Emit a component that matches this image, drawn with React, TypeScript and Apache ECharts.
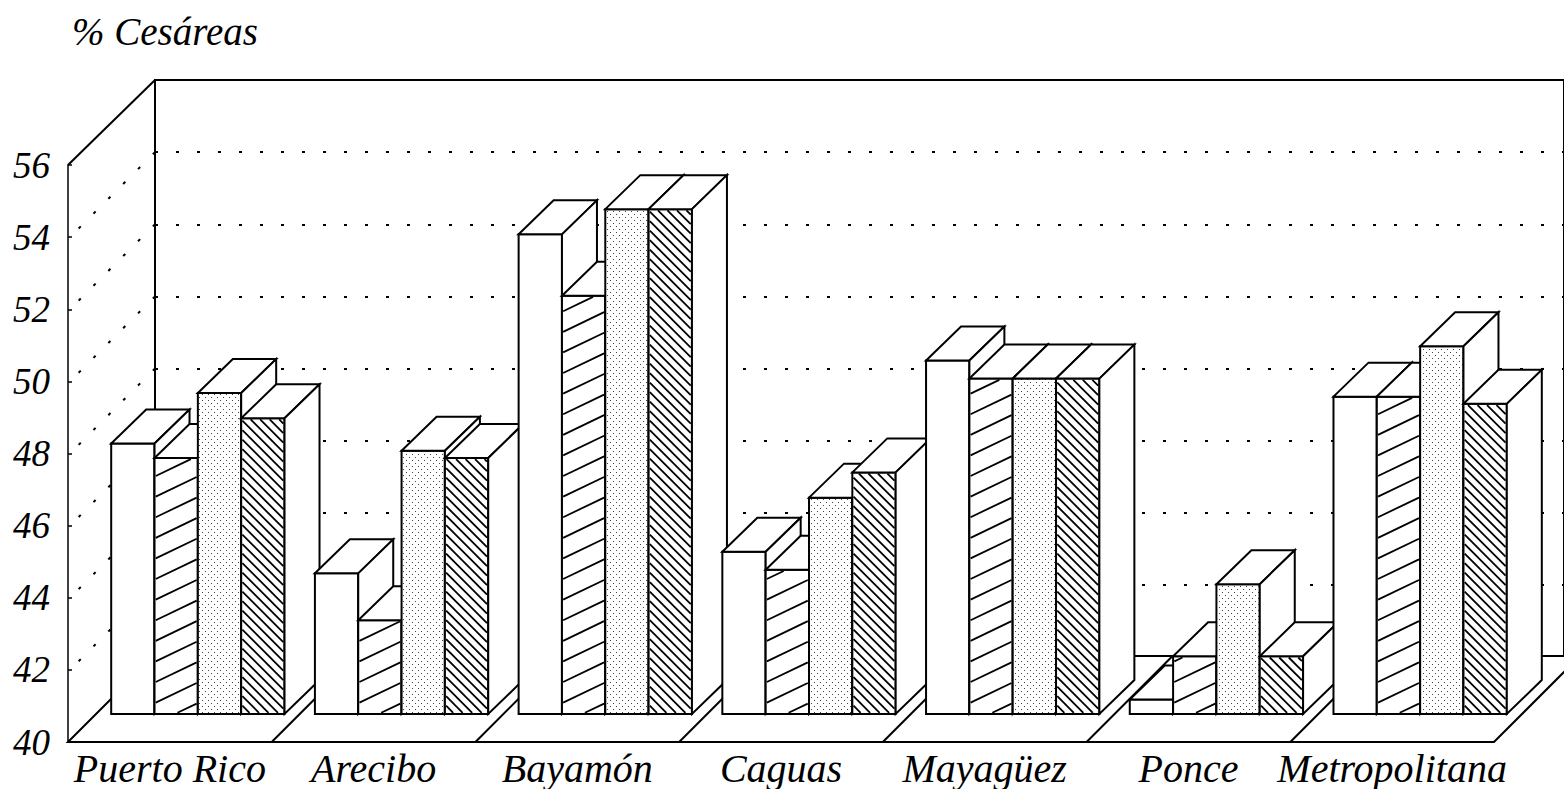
import React, { useEffect, useRef } from 'react';
import * as echarts from 'echarts';

// ---------- data ----------
const categories = ['Puerto Rico', 'Arecibo', 'Bayamón', 'Caguas', 'Mayagüez', 'Ponce', 'Metropolitana'];
const serie1 = [47.5, 43.9, 53.3, 44.5, 49.8, 40.4, 48.8]; // blanco
const serie2 = [47.1, 42.6, 51.6, 44.0, 49.3, 41.6, 48.8]; // rayado /
const serie3 = [48.9, 47.3, 54.0, 46.0, 49.3, 43.6, 50.2]; // punteado
const serie4 = [48.2, 47.1, 54.0, 46.7, 49.3, 41.6, 48.6]; // rayado \
const seriesNames = ['Serie 1', 'Serie 2', 'Serie 3', 'Serie 4'];
const seriesKinds = ['plain', 'slash', 'dots', 'backslash'];
const yMin = 40;
const yMax = 56;
const yStep = 2;
const backMin = 42;
const backMax = 58;
const backTicks = [44, 46, 48, 50, 52, 54, 56];

// ---------- layout ----------
const FONT = '"Liberation Serif", "Times New Roman", serif';
const FRONT_LEFT = 68;
const FRONT_TOP = 165;
const FRONT_W = 1426;
const FRONT_H = 577;
const BACK_LEFT = 155;
const BACK_TOP = 80;
const BACK_H = 577;
const DEPTH = 86;
const PLANE = 28;
const BAR_DX = 35;
const BAR_DY = 34;
const BAR_FRAC = 0.2127;

function hatchSegments(x0: number, y0: number, x1: number, y1: number, k: number, sp: number, c0: number) {
  const segs: number[][] = [];
  const cs = [y0 - k * x0, y0 - k * x1, y1 - k * x0, y1 - k * x1];
  const cmin = Math.min(...cs);
  const cmax = Math.max(...cs);
  let c = c0 + Math.ceil((cmin - c0) / sp) * sp;
  for (; c <= cmax; c += sp) {
    let xa = (y0 - c) / k;
    let xb = (y1 - c) / k;
    if (xa > xb) { const t = xa; xa = xb; xb = t; }
    xa = Math.max(xa, x0);
    xb = Math.min(xb, x1);
    if (xb - xa > 0.5) segs.push([xa, c + k * xa, xb, c + k * xb]);
  }
  return segs;
}

function makeDotPattern() {
  const c = document.createElement('canvas');
  c.width = 6;
  c.height = 6;
  const g = c.getContext('2d')!;
  g.fillStyle = '#ffffff';
  g.fillRect(0, 0, 6, 6);
  g.fillStyle = '#444444';
  g.fillRect(1, 1, 1, 1);
  g.fillRect(4, 4, 1, 1);
  return { image: c.toDataURL(), repeat: 'repeat', imageWidth: 6, imageHeight: 6 };
}

export default function App() {
  const ref = useRef<HTMLDivElement>(null);

  useEffect(() => {
    if (!ref.current) return;
    const chart = echarts.init(ref.current, null, { renderer: 'svg' });
    const dotPattern = makeDotPattern();
    const allSeries = [serie1, serie2, serie3, serie4];

    const barRender = (j: number) => (params: any, api: any) => {
      const i = api.value(0);
      const v = api.value(1);
      const top = api.coord([i, v]);
      const base = api.coord([i, yMin]);
      const band = api.size([1, 0])[0];
      const bw = band * BAR_FRAC;
      const cx = top[0] + PLANE;
      const x0 = cx - 2 * bw + j * bw;
      const x1 = x0 + bw;
      const yT = top[1] - PLANE;
      const yB = base[1] - PLANE;
      const z = (i * 4 + j) * 10;
      const kind = seriesKinds[j];
      const children: any[] = [];
      children.push({
        type: 'rect',
        shape: { x: x0, y: yT, width: bw, height: yB - yT },
        style: { fill: kind === 'dots' ? dotPattern : '#ffffff', stroke: 'none' },
        z2: z,
      });
      let segs: number[][] = [];
      const ix0 = x0 + 1.2, ix1 = x1 - 1.2, iy0 = yT + 1.2, iy1 = yB - 1.2;
      if (kind === 'slash') {
        const k = -0.48;
        segs = hatchSegments(ix0, iy0, ix1, iy1, k, 20.6, yB - 11 - k * x1);
      } else if (kind === 'backslash') {
        segs = hatchSegments(ix0, iy0, ix1, iy1, 1, 9.5, yB - x0);
      }
      segs.forEach((s) => {
        children.push({
          type: 'line',
          shape: { x1: s[0], y1: s[1], x2: s[2], y2: s[3] },
          style: { stroke: '#000', lineWidth: 1.8 },
          z2: z + 1,
        });
      });
      children.push({
        type: 'rect',
        shape: { x: x0, y: yT, width: bw, height: yB - yT },
        style: { fill: 'none', stroke: '#000', lineWidth: 2 },
        z2: z + 2,
      });
      children.push({
        type: 'polygon',
        shape: { points: [[x0, yT], [x1, yT], [x1 + BAR_DX, yT - BAR_DY], [x0 + BAR_DX, yT - BAR_DY]] },
        style: { fill: '#ffffff', stroke: '#000', lineWidth: 2, lineJoin: 'miter' },
        z2: z + 3,
      });
      children.push({
        type: 'polygon',
        shape: { points: [[x1, yT], [x1 + BAR_DX, yT - BAR_DY], [x1 + BAR_DX, yB - BAR_DY], [x1, yB]] },
        style: { fill: '#ffffff', stroke: '#000', lineWidth: 2, lineJoin: 'miter' },
        z2: z + 3,
      });
      return { type: 'group', children };
    };

    const floorRender = (params: any, api: any) => {
      const i = api.value(0);
      const p = api.coord([i, yMin]);
      const band = api.size([1, 0])[0];
      const left = p[0] - band / 2;
      const y = p[1];
      const children: any[] = [];
      if (i === 0) {
        const right = left + band * categories.length;
        children.push({
          type: 'polygon',
          shape: { points: [[left, y], [left + DEPTH, y - DEPTH], [right + DEPTH, y - DEPTH], [right, y]] },
          style: { fill: '#ffffff', stroke: '#000', lineWidth: 2 },
          z2: 0,
        });
      } else {
        children.push({
          type: 'line',
          shape: { x1: left, y1: y, x2: left + DEPTH, y2: y - DEPTH },
          style: { stroke: '#000', lineWidth: 2 },
          z2: 1,
        });
      }
      return { type: 'group', children };
    };

    const diagRender = (params: any, api: any) => {
      const p = api.coord([0, api.value(1)]);
      const dx = p[0] - (FRONT_LEFT + 8);
      return {
        type: 'line',
        shape: { x1: p[0], y1: p[1], x2: p[0] - dx, y2: p[1] + dx },
        style: { stroke: '#000', lineWidth: 2, lineDash: [3, 18] },
      };
    };

    const edgeRender = (params: any, api: any) => {
      const p = api.coord([0, api.value(1)]);
      return {
        type: 'line',
        shape: { x1: p[0], y1: p[1], x2: FRONT_LEFT, y2: FRONT_TOP },
        style: { stroke: '#000', lineWidth: 2 },
      };
    };

    const option: any = {
      animation: false,
      backgroundColor: '#ffffff',
      title: {
        text: '% Cesáreas',
        left: 67,
        top: 7,
        textStyle: { fontFamily: FONT, fontStyle: 'italic', fontWeight: 'normal', fontSize: 39, color: '#000' },
      },
      grid: [
        { left: FRONT_LEFT, top: FRONT_TOP, width: FRONT_W, height: FRONT_H, containLabel: false },
        {
          left: BACK_LEFT, top: BACK_TOP, width: 1500, height: BACK_H, containLabel: false,
          show: true, borderColor: '#000', borderWidth: 2, backgroundColor: 'transparent',
        },
      ],
      xAxis: [
        {
          type: 'category', gridIndex: 0, data: categories,
          axisLine: { show: false }, axisTick: { show: false },
          axisLabel: {
            interval: 0, margin: 6, color: '#000', fontFamily: FONT, fontStyle: 'italic', fontSize: 40,
          },
        },
        { type: 'value', gridIndex: 1, min: 0, max: 1, show: false },
      ],
      yAxis: [
        {
          type: 'value', gridIndex: 0, min: yMin, max: yMax, interval: yStep,
          axisLine: { show: true, lineStyle: { color: '#000', width: 1.5 } },
          axisTick: { show: true, inside: true, length: 4, lineStyle: { color: '#000', width: 1.5 } },
          splitLine: { show: false },
          axisLabel: { margin: 18, color: '#000', fontFamily: FONT, fontStyle: 'italic', fontSize: 37 },
        },
        {
          type: 'value', gridIndex: 1, min: backMin, max: backMax, interval: yStep,
          axisLine: { show: false }, axisTick: { show: false }, axisLabel: { show: false },
          splitLine: { show: true, lineStyle: { color: '#000', width: 2, type: [3, 18] } },
        },
      ],
      series: [
        {
          type: 'custom', name: 'piso', xAxisIndex: 0, yAxisIndex: 0, z: 1, silent: true, clip: false,
          data: categories.map((c, i) => [i, yMin]), encode: { x: 0, y: 1 }, renderItem: floorRender,
        },
        {
          type: 'custom', name: 'diagonales', xAxisIndex: 1, yAxisIndex: 1, z: 1, silent: true, clip: false,
          data: backTicks.map((v) => [0, v]), encode: { x: 0, y: 1 }, renderItem: diagRender,
        },
        {
          type: 'custom', name: 'borde', xAxisIndex: 1, yAxisIndex: 1, z: 1, silent: true, clip: false,
          data: [[0, backMax]], encode: { x: 0, y: 1 }, renderItem: edgeRender,
        },
        ...allSeries.map((vals, j) => ({
          type: 'custom', name: seriesNames[j], xAxisIndex: 0, yAxisIndex: 0, z: 3, silent: true, clip: false,
          data: vals.map((v, i) => [i, v]), encode: { x: 0, y: 1 }, renderItem: barRender(j),
        })),
      ],
    };
    chart.setOption(option);
    return () => chart.dispose();
  }, []);

  return (
    <div
      ref={ref}
      style={{ position: 'absolute', left: 0, top: 0, width: 1564, height: 789, background: '#fff' }}
    />
  );
}
